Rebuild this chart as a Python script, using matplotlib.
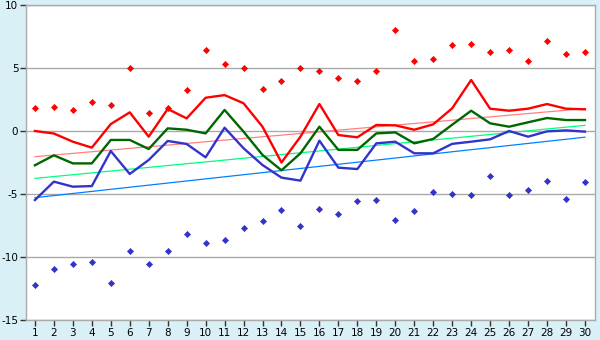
import matplotlib
matplotlib.use("Agg")
import matplotlib.pyplot as plt

plt.rcParams['axes.unicode_minus'] = False

days = list(range(1, 31))

red_line = [0.0, -0.2, -0.85, -1.32, 0.55, 1.48, -0.45, 1.75, 1.0, 2.64,
            2.85, 2.2, 0.34, -2.5, -0.45, 2.14, -0.32, -0.5, 0.48, 0.45,
            0.1, 0.53, 1.8, 4.05, 1.77, 1.61, 1.77, 2.14, 1.77, 1.72]
green_line = [-2.72, -1.93, -2.57, -2.57, -0.71, -0.71, -1.43, 0.21, 0.1, -0.19,
              1.67, -0.05, -1.9, -3.12, -1.77, 0.34, -1.5, -1.5, -0.19, -0.11,
              -0.98, -0.63, 0.5, 1.61, 0.61, 0.34, 0.69, 1.03, 0.87, 0.87]
blue_line = [-5.48, -4.02, -4.42, -4.37, -1.59, -3.41, -2.3, -0.79, -1.03, -2.09,
             0.26, -1.37, -2.7, -3.7, -3.94, -0.77, -2.91, -3.02, -0.98, -0.85,
             -1.77, -1.77, -1.02, -0.85, -0.66, 0.0, -0.45, -0.03, 0.05, -0.05]
red_points = [1.8, 1.9, 1.65, 2.3, 2.1, 5.0, 1.4, 1.8, 3.25, 6.4,
              5.3, 4.97, 3.3, 3.94, 4.97, 4.8, 4.18, 3.94, 4.8, 8.0,
              5.53, 5.69, 6.8, 6.88, 6.24, 6.4, 5.53, 7.12, 6.08, 6.24]
blue_points = [-12.25, -10.98, -10.58, -10.42, -12.09, -9.55, -10.58, -9.55, -8.2, -8.92,
               -8.68, -7.72, -7.17, -6.3, -7.56, -6.22, -6.61, -5.58, -5.5, -7.09,
               -6.37, -4.87, -5.03, -5.1, -3.6, -5.1, -4.71, -4.0, -5.42, -4.08]
trend_x = [1, 30]
red_trend = [-2.04, 1.78]
green_trend = [-3.76, 0.45]
blue_trend = [-5.29, -0.49]

y_ticks = [-15, -10, -5, 0, 5, 10]

bg = '#d9f0f7'
fig = plt.figure(figsize=(6, 3.4), dpi=100, facecolor=bg)
ax = fig.add_axes([26/600, 1-320/340, (595-26)/600, (320-5)/340])
ax.set_facecolor('white')

for y in y_ticks:
    ax.axhline(y, color='#aaaaaa', lw=1, zorder=1)

ax.plot(trend_x, red_trend, color='#ff8080', lw=0.9, zorder=2)
ax.plot(trend_x, green_trend, color='#00ff80', lw=0.9, zorder=2)
ax.plot(trend_x, blue_trend, color='#0080ff', lw=0.9, zorder=2)

ax.plot(days, blue_line, color='#3333cc', lw=1.7, zorder=3)
ax.plot(days, green_line, color='#006600', lw=1.7, zorder=4)
ax.plot(days, red_line, color='#ff0000', lw=1.7, zorder=5)

ax.plot(days, red_points, ls='none', marker='D', ms=3.1, color='#ff0000',
        mec='#ff0000', mew=0.5, zorder=6)
ax.plot(days, blue_points, ls='none', marker='D', ms=3.1, color='#3333cc',
        mec='#3333cc', mew=0.5, zorder=6)

ax.set_xlim(0.53, 30.53)
ax.set_ylim(-15, 10)
ax.set_xticks(days)
ax.set_yticks(y_ticks)
ax.tick_params(axis='both', direction='out', length=4, width=1, color='#333333',
               labelsize=7.5, pad=1.5)
for s in ax.spines.values():
    s.set_color('#aaaaaa')
    s.set_linewidth(1)

fig.savefig('out.png', dpi=100, facecolor=bg)
